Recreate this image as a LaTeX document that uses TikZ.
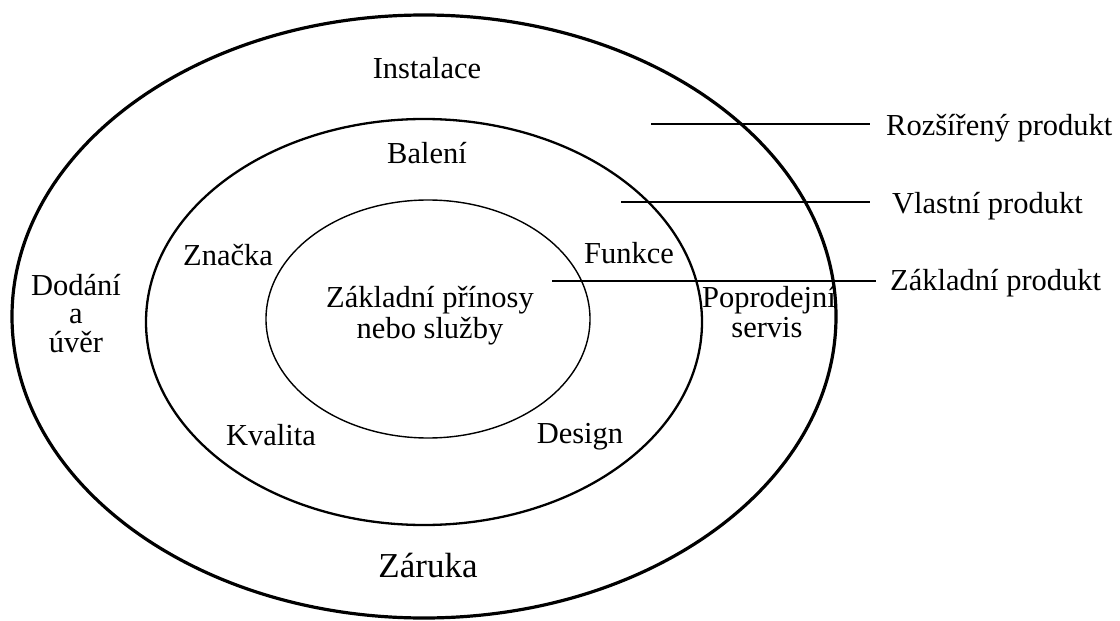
\documentclass[tikz,border=0pt]{standalone}
\usepackage{fontspec}
\setmainfont{Liberation Serif}
\usetikzlibrary{shapes.geometric}
\begin{document}
\begin{tikzpicture}[x=1pt,y=-1pt,
  ring/.style={draw=black,ellipse,inner sep=0pt,fill=none},
  lbl/.style={inner sep=0pt,anchor=base,font=\fontsize{30.5}{33}\selectfont},
  sidelbl/.style={inner sep=0pt,anchor=base west,font=\fontsize{30.5}{33}\selectfont},
  leader/.style={draw=black,line width=2.4pt}]
\useasboundingbox (0,0) rectangle (1120,621);
\fill[white] (0,0) rectangle (1120,621);
% rings
\node[ring,line width=3.2pt,minimum width=824pt,minimum height=603pt] (outer) at (424,316.5) {};
\node[ring,line width=2.3pt,minimum width=556pt,minimum height=406pt] (middle) at (424,322) {};
\node[ring,line width=1.4pt,minimum width=324pt,minimum height=238pt] (inner) at (428,319) {};
% ring labels
\node[lbl] (instalace) at (427,78) {Instalace};
\node[lbl] (baleni) at (427,163) {Balení};
\node[lbl] (znacka) at (228,265) {Značka};
\node[lbl] (dodani) at (76,295) {Dodání};
\node[lbl] (a) at (76,323.5) {a};
\node[lbl] (uver) at (76,352) {úvěr};
\node[lbl] (zakl1) at (430,307) {Základní přínosy};
\node[lbl] (zakl2) at (430,338) {nebo služby};
\node[lbl] (funkce) at (629,263) {Funkce};
\node[lbl] (poprod) at (769,307) {Poprodejní};
\node[lbl] (servis) at (767,337) {servis};
\node[lbl] (kvalita) at (271,445) {Kvalita};
\node[lbl] (design) at (580,443) {Design};
\node[inner sep=0pt,anchor=base,font=\fontsize{35}{38}\selectfont] (zaruka) at (428,577) {Záruka};
% side labels
\node[sidelbl] (rozsireny) at (886,135) {Rozšířený produkt};
\node[sidelbl] (vlastni) at (892,213) {Vlastní produkt};
\node[sidelbl] (zakladni) at (890,290) {Základní produkt};
% leader lines
\coordinate (l1s) at (651,124);
\coordinate (l1e) at (870,124);
\coordinate (l2s) at (621,202);
\coordinate (l2e) at (870,202);
\coordinate (l3s) at (552,281);
\coordinate (l3e) at (876,281);
\draw[leader] (l1s) -- (l1e);
\draw[leader] (l2s) -- (l2e);
\draw[leader] (l3s) -- (l3e);
\end{tikzpicture}
\end{document}
